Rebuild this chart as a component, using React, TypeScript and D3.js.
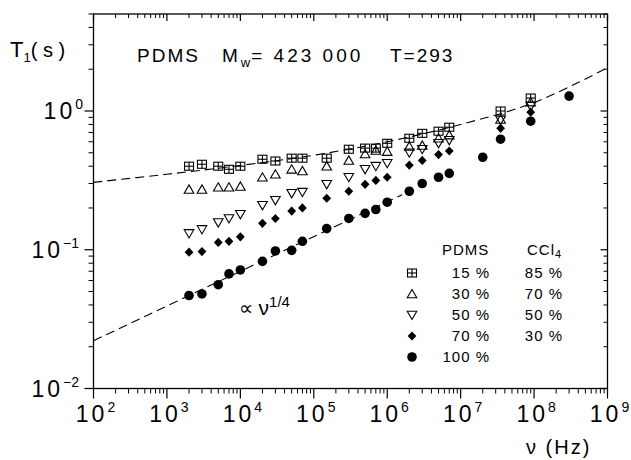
import React from 'react';
import * as d3 from 'd3';

// frequencies (Hz) shared by the four solution series
const freqs = [2e3, 3e3, 5e3, 7e3, 1e4, 2e4, 3e4, 5e4, 7e4, 1.5e5, 3e5, 5e5, 7e5, 1e6, 2e6, 3e6, 5e6, 7e6, 3.5e7, 9e7];
const t15 = [0.4, 0.413, 0.4, 0.38, 0.4, 0.449, 0.436, 0.457, 0.457, 0.457, 0.53, 0.54, 0.54, 0.585, 0.636, 0.69, 0.715, 0.764, 1.0, 1.24];
const t30 = [0.272, 0.272, 0.282, 0.282, 0.286, 0.333, 0.35, 0.38, 0.37, 0.4, 0.44, 0.49, 0.52, 0.51, 0.556, 0.565, 0.636, 0.67, 0.87, 1.16];
const t50 = [0.131, 0.14, 0.157, 0.168, 0.18, 0.209, 0.227, 0.255, 0.26, 0.296, 0.333, 0.38, 0.4, 0.42, 0.5, 0.53, 0.585, 0.615, 0.86, 1.08];
const t70 = [0.096, 0.097, 0.113, 0.115, 0.124, 0.155, 0.168, 0.19, 0.2, 0.235, 0.264, 0.296, 0.316, 0.333, 0.407, 0.44, 0.485, 0.515, 0.75, 0.98];
// pure PDMS has extra frequencies
const freqs100 = [2e3, 3e3, 5e3, 7e3, 1e4, 2e4, 3e4, 5e4, 7e4, 1.5e5, 3e5, 5e5, 7e5, 1e6, 2e6, 3e6, 5e6, 7e6, 2e7, 3.5e7, 9e7, 3e8];
const t100 = [0.0468, 0.048, 0.056, 0.067, 0.0715, 0.0825, 0.098, 0.099, 0.115, 0.142, 0.168, 0.183, 0.195, 0.22, 0.264, 0.3, 0.333, 0.355, 0.464, 0.626, 0.844, 1.28];

// dashed guide curves
const fitNu = [1e2, 1e3, 1e4, 1e5, 1e6, 1e7, 1e8, 1e9];
const fitT = [0.306, 0.35, 0.405, 0.48, 0.6, 0.8, 1.15, 2.05];
const lawNu = [1e2, 1.6e6];
const lawT = [0.0221, 0.249];

const xExps = [2, 3, 4, 5, 6, 7, 8, 9];
const yExps = [-2, -1, 0];
const legendPdms = ['15 %', '30 %', '50 %', '70 %', '100 %'];
const legendCcl = ['85 %', '70 %', '50 %', '30 %', ''];

const FONT = '"Liberation Sans", Arial, sans-serif';

const Marker = ({ kind, cx, cy }: { kind: string; cx: number; cy: number }) => {
  if (kind === 'sq') {
    return (
      <g stroke="#000" strokeWidth={1.1} fill="none">
        <rect x={cx - 4.5} y={cy - 4} width={9} height={8} />
        <line x1={cx} x2={cx} y1={cy - 4} y2={cy + 4} />
        <line x1={cx - 4.5} x2={cx + 4.5} y1={cy} y2={cy} />
      </g>
    );
  }
  if (kind === 'up') {
    return <polygon points={`${cx - 4.8},${cy + 3.8} ${cx + 4.8},${cy + 3.8} ${cx},${cy - 4.5}`} fill="none" stroke="#000" strokeWidth={1.1} />;
  }
  if (kind === 'down') {
    return <polygon points={`${cx - 4.8},${cy - 3.8} ${cx + 4.8},${cy - 3.8} ${cx},${cy + 4.5}`} fill="none" stroke="#000" strokeWidth={1.1} />;
  }
  if (kind === 'dia') {
    return <polygon points={`${cx},${cy - 4.6} ${cx + 4.4},${cy} ${cx},${cy + 4.6} ${cx - 4.4},${cy}`} fill="#000" />;
  }
  return <circle cx={cx} cy={cy} r={4.8} fill="#000" />;
};

export default function App() {
  const left = 93.5, right = 607.5, top = 14, bottom = 388.5;
  const x = d3.scaleLog().domain([1e2, 1e9]).range([left, right]);
  const y = d3.scaleLog().domain([0.01, 5]).range([bottom, top]);

  const xMinor: number[] = [];
  for (let e = 2; e < 9; e++) for (let m = 2; m <= 9; m++) xMinor.push(m * Math.pow(10, e));
  const yMinor: number[] = [];
  for (let e = -2; e <= 0; e++) for (let m = 2; m <= 9; m++) if (m * Math.pow(10, e) <= 5) yMinor.push(m * Math.pow(10, e));

  const line = d3.line<number>().x((d, i) => x(fitNu[i])).y(d => y(d)).curve(d3.curveCatmullRom.alpha(0.5));
  const lawLine = d3.line<number>().x((d, i) => x(lawNu[i])).y(d => y(d));

  const series = [
    { kind: 'dia', nu: freqs, t: t70 },
    { kind: 'dot', nu: freqs100, t: t100 },
    { kind: 'down', nu: freqs, t: t50 },
    { kind: 'up', nu: freqs, t: t30 },
    { kind: 'sq', nu: freqs, t: t15 },
  ];
  const legendKinds = ['sq', 'up', 'down', 'dia', 'dot'];

  return (
    <svg width={631} height={460} style={{ position: 'absolute', left: 0, top: 0, background: '#fff' }} fontFamily={FONT}>
      {/* frame */}
      <rect x={left} y={top} width={right - left} height={bottom - top} fill="none" stroke="#000" strokeWidth={1.3} />

      {/* x ticks: bottom outward, top inward */}
      {xMinor.map((v, i) => (
        <g key={'xm' + i} stroke="#000" strokeWidth={1}>
          <line x1={x(v)} x2={x(v)} y1={bottom} y2={bottom + 5} />
          <line x1={x(v)} x2={x(v)} y1={top} y2={top + 4} />
        </g>
      ))}
      {xExps.map(e => (
        <g key={'xM' + e} stroke="#000" strokeWidth={1.2}>
          <line x1={x(Math.pow(10, e))} x2={x(Math.pow(10, e))} y1={bottom} y2={bottom + 10} />
          <line x1={x(Math.pow(10, e))} x2={x(Math.pow(10, e))} y1={top} y2={top + 7} />
        </g>
      ))}
      {xExps.map(e => (
        <text key={'xl' + e} x={x(Math.pow(10, e)) + 2} y={422} textAnchor="middle" fontSize={23} letterSpacing={3}>
          10<tspan dy={-10} fontSize={14} letterSpacing={0}>{e}</tspan>
        </text>
      ))}

      {/* y ticks: left outward, right inward */}
      {yMinor.map((v, i) => (
        <g key={'ym' + i} stroke="#000" strokeWidth={1}>
          <line x1={left - 5} x2={left} y1={y(v)} y2={y(v)} />
          <line x1={right - 4} x2={right} y1={y(v)} y2={y(v)} />
        </g>
      ))}
      {yExps.map(e => (
        <g key={'yM' + e} stroke="#000" strokeWidth={1.2}>
          <line x1={left - 9} x2={left} y1={y(Math.pow(10, e))} y2={y(Math.pow(10, e))} />
          <line x1={right - 7} x2={right} y1={y(Math.pow(10, e))} y2={y(Math.pow(10, e))} />
        </g>
      ))}
      {yExps.map(e => (
        <text key={'yl' + e} x={e === 0 ? 83 : 79} y={y(Math.pow(10, e)) + 8} textAnchor="end" fontSize={23} letterSpacing={3}>
          10<tspan dy={-10} fontSize={14} letterSpacing={0}>{e < 0 ? '\u2212' + Math.abs(e) : e}</tspan>
        </text>
      ))}

      {/* axis titles */}
      <text x={10} y={57} fontSize={22}>
        T<tspan dy={5} fontSize={13}>1</tspan>
        <tspan dy={-5} fontSize={20}>( s )</tspan>
      </text>
      <text x={526} y={454} fontSize={20} letterSpacing={2}>ν (Hz)</text>

      {/* header */}
      <text x={137} y={62} fontSize={19} letterSpacing={2}>PDMS</text>
      <text x={222} y={62} fontSize={19} letterSpacing={3}>
        M<tspan dy={5} fontSize={13} letterSpacing={1}>w</tspan><tspan dy={-5}>= 423 000</tspan>
      </text>
      <text x={390} y={62} fontSize={19} letterSpacing={2}>T=293</text>

      {/* fit curves */}
      <path d={line(fitT) || ''} fill="none" stroke="#000" strokeWidth={1.1} strokeDasharray="9,5" />
      <path d={lawLine(lawT) || ''} fill="none" stroke="#000" strokeWidth={1.1} strokeDasharray="9,5" />
      <text x={239} y={315} fontSize={20}>
        ∝ <tspan fontSize={21}>ν</tspan><tspan dy={-8} fontSize={15}>1/4</tspan>
      </text>

      {/* data */}
      {series.map(s => (
        <g key={s.kind}>
          {s.t.map((v, i) => <Marker key={i} kind={s.kind} cx={x(s.nu[i])} cy={y(v)} />)}
        </g>
      ))}

      {/* legend */}
      <text x={442} y={255} fontSize={15} letterSpacing={1}>PDMS</text>
      <text x={527} y={255} fontSize={15} letterSpacing={1}>
        CCl<tspan dy={3} fontSize={11}>4</tspan>
      </text>
      {legendKinds.map((k, i) => (
        <g key={'lg' + k}>
          <Marker kind={k} cx={412} cy={273 + i * 21} />
          <text x={490} y={278 + i * 21} textAnchor="end" fontSize={15} letterSpacing={1}>{legendPdms[i]}</text>
          <text x={563} y={278 + i * 21} textAnchor="end" fontSize={15} letterSpacing={1}>{legendCcl[i]}</text>
        </g>
      ))}
    </svg>
  );
}
